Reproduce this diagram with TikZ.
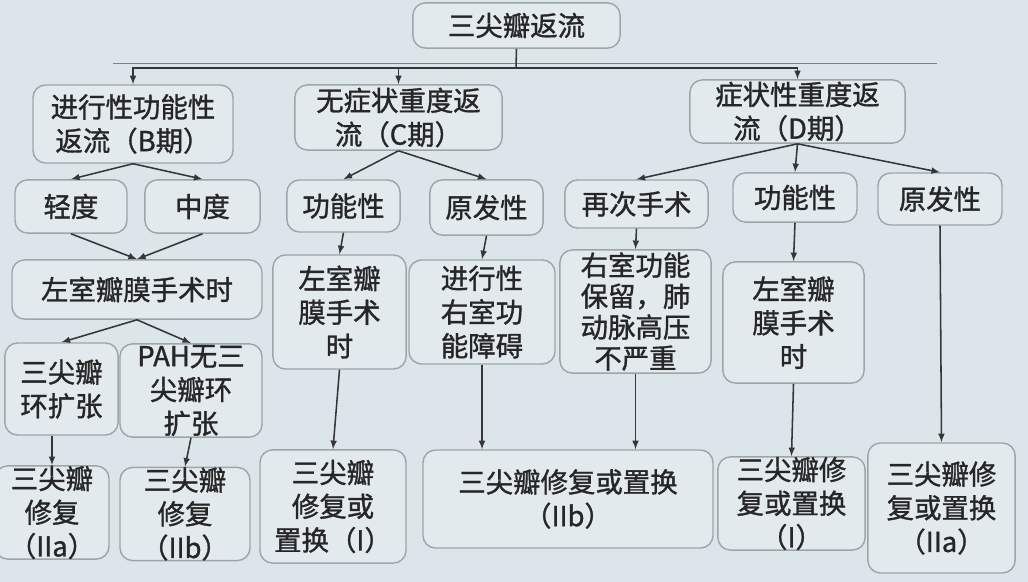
\documentclass[tikz,border=0pt]{standalone}
\usepackage{fontspec}
\setmainfont{Noto Sans CJK SC}
\newfontfamily\boxfont[FakeBold=1.2]{Noto Sans CJK SC}

\definecolor{slidebg}{HTML}{DCE6EA}
\definecolor{boxfill}{HTML}{E2EAEE}
\definecolor{boxline}{HTML}{9CA6A8}
\definecolor{inkgray}{HTML}{262626}
\definecolor{linegray}{HTML}{363636}

\tikzset{
	box/.style = {draw = boxline, line width = 1pt, fill = boxfill, rounded corners = 9pt,
		align = center, inner sep = 0pt, text = inkgray, font = {\boxfont\fontsize{19.5}{24}\selectfont}},
	link/.style = {->, draw = linegray, line width = 1.1pt}
}

\begin{document}
\begin{tikzpicture}[> = latex, x = 0.025cm, y = -0.025cm]

	% Slide background
	
	\fill [slidebg] (0, 0) rectangle (1028, 582);
	\useasboundingbox (0, 0) rectangle (1028, 582);
	\draw [thin, gray] (113, 63) -- (937, 63);

	% Top box + stages
	
	\node [box, minimum width = 5.18cm, minimum height = 1.13cm] (tr) at (516.5, 25.5) {三尖瓣返流};
	\node [box, minimum width = 5cm, minimum height = 1.95cm] (stageB) at (133, 124) {进行性功能性\\返流（B期）};
	\node [box, minimum width = 5.18cm, minimum height = 1.63cm] (stageC) at (398.5, 117.5) {无症状重度返\\流（C期）};
	\node [box, minimum width = 5.38cm, minimum height = 1.58cm] (stageD) at (797.5, 111.5) {症状性重度返\\流（D期）};
	
	% Second row
	
	\node [box, minimum width = 2.8cm, minimum height = 1.33cm] (mildB) at (71, 206.5) {轻度};
	\node [box, minimum width = 2.88cm, minimum height = 1.33cm] (modB) at (202.5, 206.5) {中度};
	\node [box, minimum width = 2.83cm, minimum height = 1.3cm] (funcC) at (343.5, 206) {功能性};
	\node [box, minimum width = 2.83cm, minimum height = 1.38cm] (primC) at (486.5, 207.5) {原发性};
	\node [box, minimum width = 3.58cm, minimum height = 1.2cm] (redo) at (636.5, 204) {再次手术};
	\node [box, minimum width = 3.1cm, minimum height = 1.23cm] (funcD) at (795, 197.5) {功能性};
	\node [box, minimum width = 3.1cm, minimum height = 1.3cm] (primD) at (940, 199) {原发性};
	
	% Third row
	
	\node [box, minimum width = 6.25cm, minimum height = 1.48cm] (lvB) at (137, 289.5) {左室瓣膜手术时};
	\node [box, minimum width = 3.33cm, minimum height = 2.85cm] (lvC) at (339.5, 312) {左室瓣\\膜手术\\时};
	\node [box, minimum width = 3.65cm, minimum height = 2.6cm] (rvC) at (482, 312) {进行性\\右室功\\能障碍};
	\node [box, minimum width = 3.78cm, minimum height = 3.08cm, font = {\boxfont\fontsize{19.5}{22}\selectfont}] (keep) at (635.5, 311.5) {右室功能\\保留，肺\\动脉高压\\不严重};
	\node [box, minimum width = 3.53cm, minimum height = 3.03cm] (lvD) at (793.5, 322.5) {左室瓣\\膜手术\\时};
	
	% Fourth row (B only)
	
	\node [box, minimum width = 2.83cm, minimum height = 2.3cm] (dil) at (61.5, 389) {三尖瓣\\环扩张};
	\node [box, minimum width = 3.55cm, minimum height = 2.33cm] (pah) at (191, 390.5) {PAH无三\\尖瓣环\\扩张};
	
	% Treatment boxes
	
	\node [box, minimum width = 2.85cm, minimum height = 2.28cm] (repB1) at (52, 512.5) {三尖瓣\\修复\\（IIa）};
	\node [box, minimum width = 3.25cm, minimum height = 2.3cm] (repB2) at (185, 514) {三尖瓣\\修复\\（IIb）};
	\node [box, minimum width = 3.65cm, minimum height = 2.83cm] (repC1) at (333, 506.5) {三尖瓣\\修复或\\置换（I）};
	\node [box, minimum width = 7.25cm, minimum height = 2.45cm] (repC2) at (568, 499) {三尖瓣修复或置换\\（IIb）};
	\node [box, minimum width = 3.68cm, minimum height = 2.33cm] (repD1) at (791.5, 503.5) {三尖瓣修\\复或置换\\（I）};
	\node [box, minimum width = 3.68cm, minimum height = 3.25cm] (repD2) at (941.5, 508) {三尖瓣修\\复或置换\\（IIa）};
	
	% Top split
	
	\coordinate (bus) at (516, 68);
	\draw [linegray, line width = 1.1pt] (tr.south) -- (bus);
	\draw [link] (bus) -| (stageB.north);
	\draw [link] (bus) -| (stageD.north);
	\draw [link] (stageC.north |- bus) -- (stageC.north);
	
	% Stage branches
	
	\foreach \kid in {mildB, modB}
		\draw [link] (stageB.south) -- (\kid.north);
	\foreach \kid in {funcC, primC}
		\draw [link] (stageC.south) -- (\kid.north);
	\foreach \kid in {redo, funcD, primD}
		\draw [link] (stageD.south) -- (\kid.north);
	
	% Lower links
	
	\draw [link] (mildB.south) -- (lvB.north);
	\draw [link] (modB.south) -- (lvB.north);
	\draw [link] (lvB.south) -- (dil.north);
	\draw [link] (lvB.south) -- (pah.north);
	\draw [link] (repB1.north |- dil.south) -- (repB1.north);
	\draw [link] (pah.south) -- (repB2.north);
	
	\draw [link] (funcC.south) -- (lvC.north);
	\draw [link] (primC.south) -- (rvC.north);
	\draw [link] (lvC.south) -- (repC1.north);
	\draw [link] (rvC.south) -- (rvC.south |- repC2.north);
	
	\draw [link] (redo.south) -- (keep.north);
	\draw [link] (keep.south) -- (keep.south |- repC2.north);
	\draw [link] (funcD.south) -- (lvD.north);
	\draw [link] (lvD.south) -- (repD1.north);
	\draw [link] (primD.south) -- (repD2.north);
	
\end{tikzpicture}
\end{document}
